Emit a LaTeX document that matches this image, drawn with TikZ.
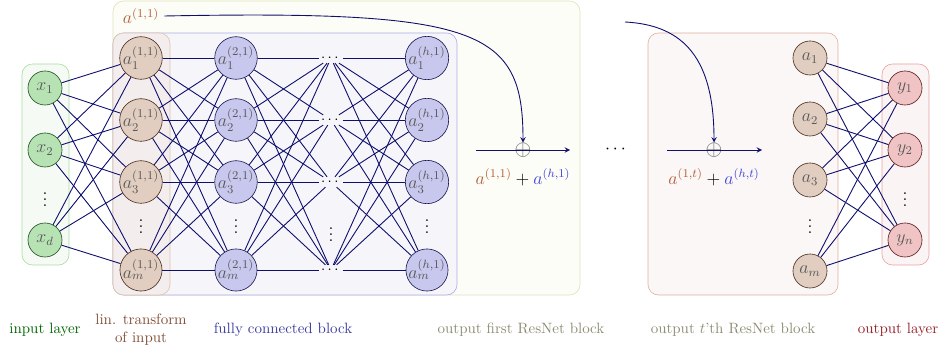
\documentclass[tikz,border=0pt]{standalone}
\usepackage{amsmath}
\usetikzlibrary{arrows,calc,positioning}

\definecolor{edgecol}{RGB}{15,15,110}
\definecolor{inpfill}{RGB}{183,226,180}
\definecolor{inpdraw}{RGB}{25,75,25}
\definecolor{linfill}{RGB}{225,206,193}
\definecolor{lindraw}{RGB}{70,40,25}
\definecolor{fcfill}{RGB}{200,200,238}
\definecolor{fcdraw}{RGB}{20,20,80}
\definecolor{outfill}{RGB}{240,196,196}
\definecolor{outdraw}{RGB}{90,20,20}
\definecolor{resbrown}{RGB}{180,95,55}
\definecolor{resblue}{RGB}{70,70,220}
\definecolor{labgreen}{RGB}{0,100,0}
\definecolor{labbrown}{RGB}{130,80,55}
\definecolor{labblue}{RGB}{60,60,160}
\definecolor{labgray}{RGB}{140,140,115}
\definecolor{labred}{RGB}{150,30,40}

\begin{document}
\begin{tikzpicture}[>=stealth, x=0.0235cm, y=-0.0235cm]
    \tikzstyle{box}=[rounded corners=7pt,thin]
    \tikzstyle{neuron}=[circle,draw,thin,text=black!65,inner sep=0pt,font=\large]
    \tikzstyle{small}=[neuron,minimum size=0.8cm]
    \tikzstyle{big}=[neuron,minimum size=0.99cm]
    \tikzstyle{conn}=[draw=edgecol,line width=0.6pt]
    \tikzstyle{hdots}=[inner sep=1pt]
    \tikzstyle{vdot}=[font=\large,inner sep=0pt]
    \tikzstyle{lab}=[align=center]

    \useasboundingbox (0,0) rectangle (950,350);

    % blocks
    \draw[box,fill={rgb,255:red,253;green,253;blue,247},draw={rgb,255:red,225;green,225;blue,185}] (113,1) rectangle (580,295);
    \draw[box,fill={rgb,255:red,246;green,246;blue,250},draw={rgb,255:red,170;green,170;blue,235}] (113,33) rectangle (457,295);
    \draw[box,fill={rgb,255:red,243;green,238;blue,237},draw={rgb,255:red,220;green,195;blue,175}] (113,33) rectangle (170,295);
    \draw[box,fill={rgb,255:red,246;green,250;blue,245},draw={rgb,255:red,170;green,220;blue,160}] (22,64) rectangle (69,265);
    \draw[box,fill={rgb,255:red,251;green,247;blue,246},draw={rgb,255:red,225;green,175;blue,160}] (648,33) rectangle (838,295);
    \draw[box,fill={rgb,255:red,250;green,244;blue,244},draw={rgb,255:red,235;green,160;blue,160}] (882,64) rectangle (929,265);

    % input layer
    \foreach \i/\y in {1/88,2/150,d/240}
      \node[small,fill=inpfill,draw=inpdraw] (x\i) at (45,\y) {$x_{\i}$};
    \node[vdot] (xdots) at (45,195) {$\vdots$};

    % ResNet block
    \foreach \i/\y in {1/58,2/120,3/182,m/270} {
      \node[big,fill=linfill,draw=lindraw] (l\i) at (141,\y) {$a_{\i}^{(1,1)}$};
      \node[big,fill=fcfill,draw=fcdraw] (f\i) at (236,\y) {$a_{\i}^{(2,1)}$};
      \node[hdots] (d\i) at (331,\y) {$\cdots$};
      \node[big,fill=fcfill,draw=fcdraw] (h\i) at (427,\y) {$a_{\i}^{(h,1)}$};
    }
    \node[vdot] (ldots) at (141,222) {$\vdots$};
    \node[vdot] (fdots) at (236,222) {$\vdots$};
    \node[vdot] (ddots) at (331,230) {$\vdots$};
    \node[vdot] (hdots) at (427,222) {$\vdots$};

    \foreach \i in {1,2,d}
      \foreach \j in {1,2,3,m}
        \draw[conn] (x\i) -- (l\j);
    \foreach \i in {1,2,3,m}
      \foreach \j in {1,2,3,m} {
        \draw[conn] (l\i) -- (f\j);
        \draw[conn] (f\i) -- (d\j);
        \draw[conn] (d\i) -- (h\j);
      }

    % skip connections
    \node[text=resbrown,font=\large] (skip1) at (141,16) {$a^{(1,1)}$};
    \node[text=black!60,font=\Large,inner sep=0pt] (sum1) at (523,150) {$\oplus$};
    \coordinate (in1) at (476,150);
    \coordinate (out1) at (570,150);
    \draw[conn,->] (in1) -- (out1);
    \draw[conn,->] (skip1.east) .. controls (480,10) and (523,30) .. (sum1.north);
    \node[font=\large] (sum1lab) at (523,177) {$\color{resbrown}a^{(1,1)}\color{black}+\color{resblue}a^{(h,1)}$};

    \node[font=\large] (between) at (617,150) {$\cdots$};

    \coordinate (skipt) at (625,22);
    \node[text=black!60,font=\Large,inner sep=0pt] (sumt) at (714,150) {$\oplus$};
    \coordinate (int) at (667,150);
    \coordinate (outt) at (762,150);
    \draw[conn,->] (int) -- (outt);
    \draw[conn,->] (skipt) .. controls (685,25) and (714,60) .. (sumt.north);
    \node[font=\large] (sumtlab) at (714,177) {$\color{resbrown}a^{(1,t)}\color{black}+\color{resblue}a^{(h,t)}$};

    % output layer
    \foreach \i/\y in {1/58,2/119,3/180,m/271}
      \node[small,fill=linfill,draw=lindraw] (r\i) at (810,\y) {$a_{\i}$};
    \node[vdot] (rdots) at (810,222) {$\vdots$};
    \foreach \i/\y in {1/88,2/150,n/240}
      \node[small,fill=outfill,draw=outdraw] (y\i) at (905,\y) {$y_{\i}$};
    \node[vdot] (ydots) at (905,195) {$\vdots$};
    \foreach \i in {1,2,3,m}
      \foreach \j in {1,2,n}
        \draw[conn] (r\i) -- (y\j);

    % labels
    \node[lab,text=labgreen] (labin) at (45,330) {input layer};
    \node[lab,text=labbrown] (lablin) at (141,330) {lin. transform\\of input};
    \node[lab,text=labblue] (labfc) at (283,330) {fully connected block};
    \node[lab,text=labgray] (labres) at (521,330) {output first ResNet block};
    \node[lab,text=labgray] (labrest) at (733,330) {output $t$'th ResNet block};
    \node[lab,text=labred] (labout) at (898,330) {output layer};
\end{tikzpicture}
\end{document}
